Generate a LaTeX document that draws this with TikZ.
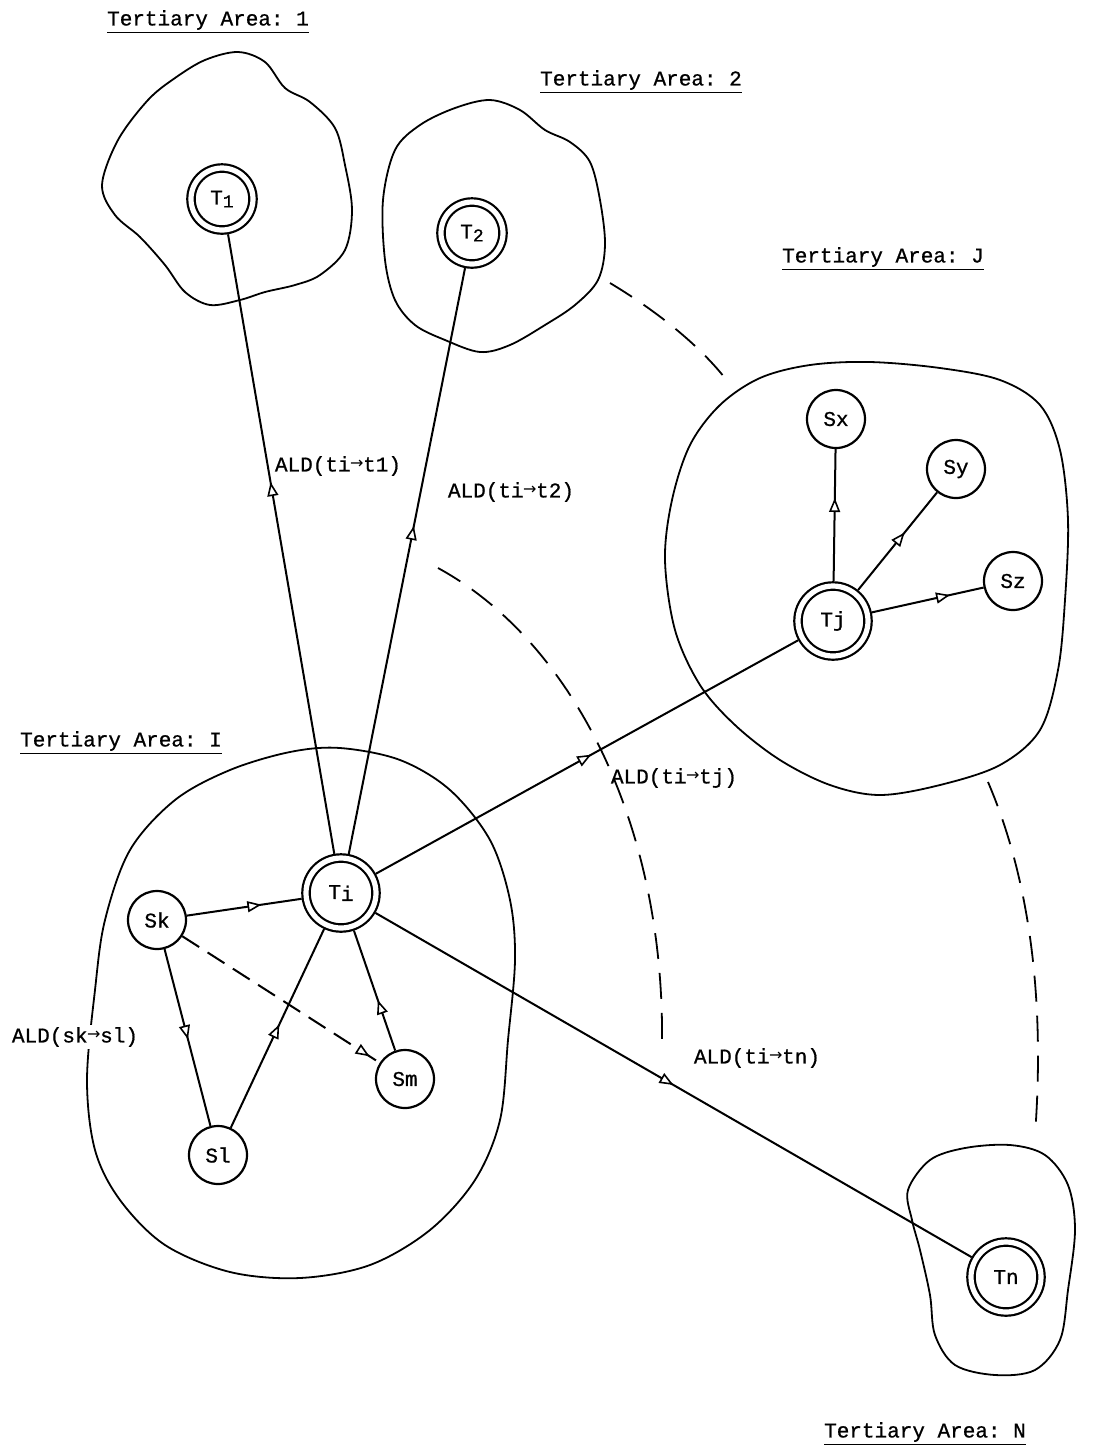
\documentclass[tikz,border=0pt]{standalone}
\usepackage{fontspec}
\setmonofont{Liberation Mono}[FakeBold=0.8]
\newfontfamily\arrfont{DejaVu Sans}
\usetikzlibrary{arrows.meta,decorations.markings}
\newcommand{\myarr}{\makebox[0.6em]{\raisebox{0.3ex}{\arrfont\fontsize{8}{8}\selectfont →}}}
\tikzset{
  every node/.style={font=\ttfamily\fontsize{10.5}{12}\selectfont},
  snode/.style={circle,draw,line width=1.1pt,minimum size=29pt,inner sep=0pt},
  tnode/.style={circle,draw,line width=1.1pt,double,double distance=2.6pt,minimum size=#1,inner sep=0pt,outer sep=2.4pt},
  tnode/.default=35pt,
  blobline/.style={line width=0.9pt},
  conn/.style={line width=1pt,postaction={decorate},decoration={markings,mark=at position #1 with {\arrow{Triangle[fill=white,length=7pt,width=5.5pt,line width=0.8pt]}}}},
  arcdash/.style={line width=0.9pt,dash pattern=on 13pt off 7pt},
  lab/.style={inner sep=1pt},
}
\begin{document}
\begin{tikzpicture}[x=0.5pt,y=-0.5pt]
\useasboundingbox[fill=white] (0,0) rectangle (1112,1448);

% areas
\draw[blobline] plot[smooth cycle,tension=0.55] coordinates {(102,185) (118,140) (148,100) (175,78) (205,60) (238,52) (265,62) (285,88) (310,102) (335,128) (345,165) (352,210) (345,250) (320,275) (295,285) (265,292) (240,300) (210,305) (185,292) (165,265) (140,237) (115,215)};
\draw[blobline] plot[smooth cycle,tension=0.55] coordinates {(383,200) (395,150) (420,125) (455,108) (490,100) (520,110) (545,130) (570,142) (590,162) (600,200) (605,245) (598,280) (575,305) (545,325) (510,345) (480,352) (445,340) (415,325) (395,300) (385,260)};
\draw[blobline] plot[smooth cycle,tension=0.55] coordinates {(665,560) (672,500) (690,445) (720,405) (760,378) (810,365) (870,362) (940,368) (1000,380) (1040,405) (1060,450) (1068,520) (1065,600) (1058,670) (1040,730) (1000,765) (940,785) (880,795) (830,785) (780,760) (735,725) (700,685) (675,630)};
\draw[blobline] plot[smooth cycle,tension=0.55] coordinates {(87,1080) (95,990) (105,920) (130,850) (175,800) (230,770) (290,752) (340,748) (400,760) (450,790) (490,840) (510,900) (515,960) (508,1040) (500,1120) (475,1180) (430,1230) (370,1265) (300,1278) (230,1272) (165,1245) (120,1200) (95,1150)};
\draw[blobline] plot[smooth cycle,tension=0.55] coordinates {(908,1190) (930,1160) (965,1148) (1010,1145) (1045,1155) (1068,1185) (1075,1230) (1068,1290) (1060,1340) (1035,1370) (995,1375) (955,1365) (935,1335) (930,1295) (920,1250) (912,1220)};

% titles
\node (ta1) at (208,22) {\underline{Tertiary Area: 1}};
\node (ta2) at (641,82) {\underline{Tertiary Area: 2}};
\node (taj) at (883,259) {\underline{Tertiary Area: J}};
\node (tai) at (121,743) {\underline{Tertiary Area: I}};
\node (tan) at (925,1434) {\underline{Tertiary Area: N}};

% nodes
\node[tnode=31pt] (T1) at (222,199) {T\raisebox{-1.5pt}{\small 1}};
\node[tnode=31pt] (T2) at (472,233) {T\raisebox{-1.5pt}{\small 2}};
\node[tnode] (Ti) at (341,893) {T\raisebox{-1pt}{i}};
\node[tnode] (Tj) at (833,621) {Tj};
\node[tnode] (Tn) at (1006,1277) {Tn};
\node[snode] (Sx) at (836,419) {Sx};
\node[snode] (Sy) at (956,469) {Sy};
\node[snode] (Sz) at (1013,581) {Sz};
\node[snode] (Sk) at (157,920) {Sk};
\node[snode] (Sl) at (218,1155) {Sl};
\node[snode] (Sm) at (405,1079) {Sm};

% connectors
\draw[conn=0.6] (Ti) -- (T1);
\draw[conn=0.56] (Ti) -- (T2);
\draw[conn=0.51] (Ti) -- (Tj);
\draw[conn=0.5] (Ti) -- (Tn);
\draw[conn=0.63] (Tj) -- (Sx);
\draw[conn=0.59] (Tj) -- (Sy);
\draw[conn=0.7] (Tj) -- (Sz);
\draw[conn=0.65] (Sk) -- (Ti);
\draw[conn=0.51] (Sk) -- (Sl);
\draw[conn=0.52] (Sl) -- (Ti);
\draw[conn=0.42] (Sm) -- (Ti);
\draw[conn=0.95,dash pattern=on 10pt off 5pt] (Sk) -- (Sm);

% dashed separators
\coordinate (d1a) at (610,283); \coordinate (d1b) at (728,382);
\coordinate (d2a) at (438,568); \coordinate (d2b) at (662,1045);
\coordinate (d3a) at (988,782); \coordinate (d3b) at (1035,1135);
\draw[arcdash] (d1a) .. controls (655,310) and (700,345) .. (d1b);
\draw[arcdash] (d2a) .. controls (570,640) and (665,820) .. (d2b);
\draw[arcdash] (d3a) .. controls (1030,880) and (1045,1000) .. (d3b);

% labels
\node[lab] (l1) at (338,466) {ALD(ti\myarr t1)};
\node[lab] (l2) at (511,492) {ALD(ti\myarr t2)};
\node[lab] (lj) at (674,778) {ALD(ti\myarr tj)};
\node[lab] (ln) at (757,1058) {ALD(ti\myarr tn)};
\node[lab,fill=white] (ls) at (75,1037) {ALD(sk\myarr sl)};
\end{tikzpicture}
\end{document}
